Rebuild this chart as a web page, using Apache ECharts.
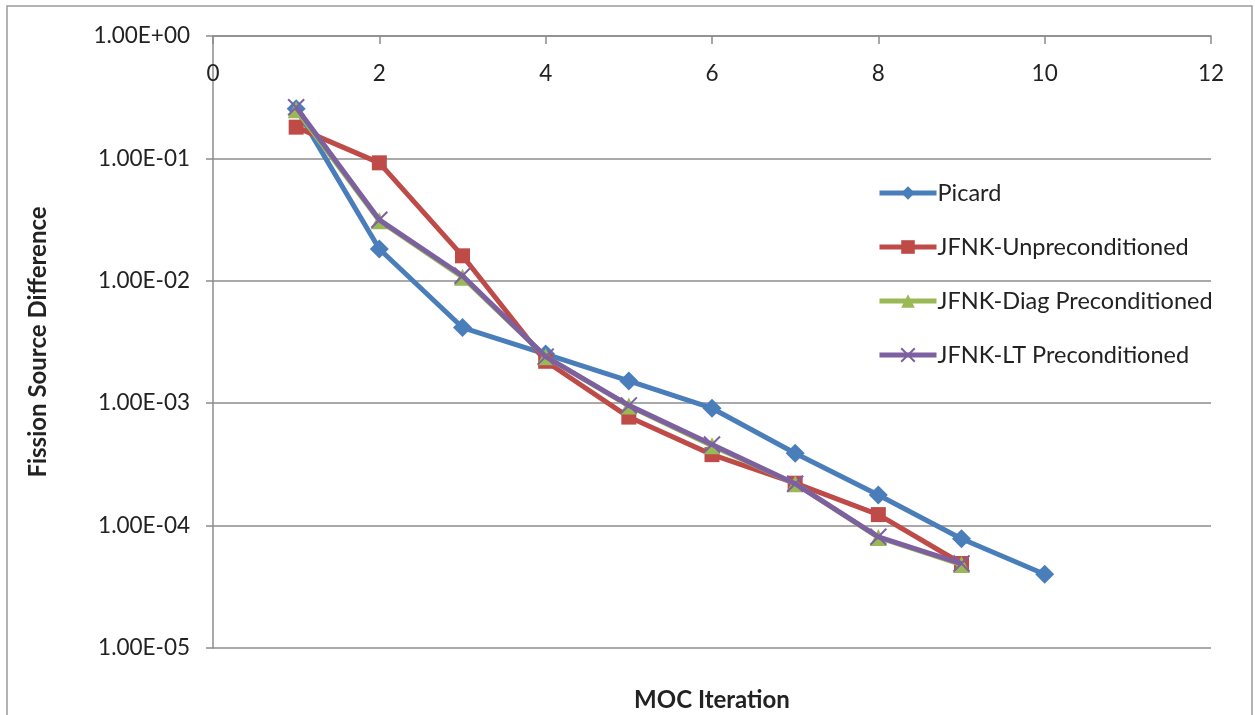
<!DOCTYPE html>
<html>
<head>
<meta charset="utf-8">
<script src="https://cdn.jsdelivr.net/npm/echarts@6/dist/echarts.min.js"></script>
<style>
  html, body { margin: 0; padding: 0; background: #fff; }
  #chart { width: 1255px; height: 715px; }
</style>
</head>
<body>
<div id="chart"></div>
<script>
// MOC iteration numbers
const iterations = [1, 2, 3, 4, 5, 6, 7, 8, 9, 10];

// Fission source difference per iteration, one array per solver
const picard = [0.255, 0.0182, 0.00415, 0.00252, 0.00152, 0.00091, 0.00039, 0.000178, 7.8e-5, 4.0e-5];
const jfnkUnprecond = [0.18, 0.092, 0.016, 0.0022, 0.00077, 0.00038, 0.000222, 0.000123, 4.9e-5];
const jfnkDiag = [0.25, 0.031, 0.0107, 0.0024, 0.00095, 0.00045, 0.00022, 8.0e-5, 4.8e-5];
const jfnkLT = [0.262, 0.0315, 0.011, 0.0024, 0.00096, 0.00046, 0.00022, 8.1e-5, 4.9e-5];

const seriesNames = ['Picard', 'JFNK-Unpreconditioned', 'JFNK-Diag Preconditioned', 'JFNK-LT Preconditioned'];
const seriesColors = ['#4A7EBB', '#BE4B48', '#98B954', '#7D60A0'];

const FONT = 'Lato';

function pairs(values) {
  return values.map((v, i) => [iterations[i], v]);
}

function sciLabel(v) {
  const exp = Math.round(Math.log10(v));
  const mant = v / Math.pow(10, exp);
  const sign = exp < 0 ? '-' : '+';
  const e = String(Math.abs(exp)).padStart(2, '0');
  return mant.toFixed(2) + 'E' + sign + e;
}

const markers = ['diamond', 'rect', 'triangle', 'path://M0,0L10,10M10,0L0,10'];
const markerSizes = [19, 15, 17, 16];
const allData = [picard, jfnkUnprecond, jfnkDiag, jfnkLT];

function markerStyle(i) {
  return i === 3
    ? { color: 'transparent', borderColor: seriesColors[i], borderWidth: 2 }
    : { color: seriesColors[i], borderWidth: 0 };
}

const series = allData.map((vals, i) => ({
  name: seriesNames[i],
  type: 'line',
  data: pairs(vals),
  symbol: markers[i],
  symbolSize: markerSizes[i],
  showSymbol: true,
  lineStyle: { color: seriesColors[i], width: 5 },
  itemStyle: markerStyle(i),
  z: 2 + i,
  animation: false
}));

const chart = echarts.init(document.getElementById('chart'), null, { renderer: 'canvas' });

// horizontal centre of the plotting area, for the bottom axis title
const plotCenterX = (213 + 1211) / 2;

chart.setOption({
  animation: false,
  backgroundColor: '#ffffff',
  grid: { left: 213, right: 44, top: 36, bottom: 67, containLabel: false },
  legend: {
    orient: 'vertical',
    left: 872,
    top: 176,
    itemWidth: 57,
    itemHeight: 17,
    itemGap: 30,
    textStyle: { fontFamily: FONT, fontSize: 23.5, color: '#222', padding: [0, 0, 0, -4] },
    data: seriesNames.map((n, i) => ({
      name: n,
      itemStyle: markerStyle(i),
      lineStyle: { color: seriesColors[i], width: 5 }
    }))
  },
  xAxis: {
    type: 'value',
    position: 'top',
    min: 0,
    max: 12,
    interval: 2,
    axisLine: { show: true, onZero: false, lineStyle: { color: '#8c8c8c', width: 1.5 } },
    axisTick: { show: true, inside: true, length: 8, lineStyle: { color: '#8c8c8c', width: 1.5 } },
    axisLabel: { inside: true, margin: 26, fontFamily: FONT, fontSize: 22.5, color: '#222' },
    splitLine: { show: false }
  },
  yAxis: {
    type: 'log',
    logBase: 10,
    min: 1e-5,
    max: 1,
    name: 'Fission Source Difference',
    nameLocation: 'middle',
    nameGap: 163,
    nameRotate: 90,
    nameTextStyle: { fontFamily: FONT, fontSize: 24, fontWeight: 'bold', color: '#222' },
    axisLine: { show: true, lineStyle: { color: '#8c8c8c', width: 1.5 } },
    axisTick: { show: true, length: 7, lineStyle: { color: '#8c8c8c', width: 1.5 } },
    axisLabel: { margin: 23, fontFamily: FONT, fontSize: 22.5, color: '#222', formatter: sciLabel },
    splitLine: { show: true, lineStyle: { color: '#8c8c8c', width: 1.5 } }
  },
  graphic: [
    {
      type: 'rect',
      shape: { x: 7, y: 6, width: 1245, height: 720 },
      style: { fill: 'none', stroke: '#9a9a9a', lineWidth: 1.5 },
      silent: true,
      z: -1
    },
    {
      type: 'text',
      x: plotCenterX,
      y: 700,
      style: {
        text: 'MOC Iteration',
        font: 'bold 24px ' + FONT,
        fill: '#222',
        textAlign: 'center',
        textVerticalAlign: 'middle'
      }
    }
  ],
  series: series
});
</script>
</body>
</html>
